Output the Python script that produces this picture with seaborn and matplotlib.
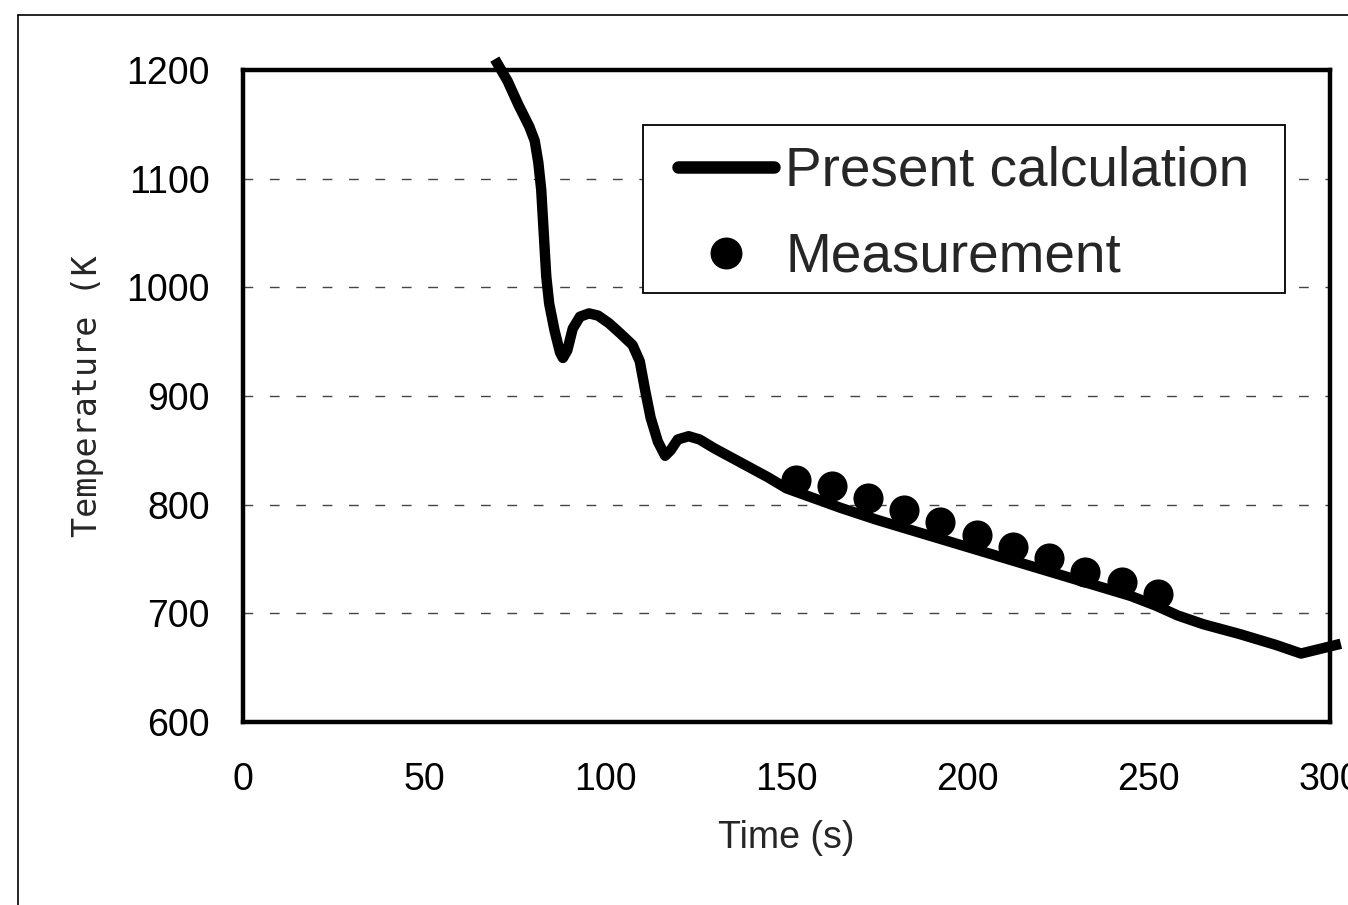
import pandas as pd
import seaborn as sns
import matplotlib.pyplot as plt
from matplotlib.lines import Line2D
from matplotlib.patches import Rectangle

# calculated temperature history
calc_time = [69.5, 73, 76, 79, 80.5, 81.5, 82.3, 83, 83.7, 84.5, 86, 87.5,
             88.3, 89.5, 91, 93, 95.5, 98, 101, 104, 107.5, 109.5, 111, 112.5,
             114.5, 116.5, 118, 120, 123, 126, 130, 135, 140, 145, 150, 155,
             165, 175, 185, 195, 205, 215, 225, 235, 245, 252, 258, 265, 275,
             285, 292, 303]
calc_temp = [1210, 1190, 1168, 1148, 1135, 1115, 1090, 1050, 1010, 985, 960, 940,
             935, 942, 962, 973, 976, 974, 967, 958, 947, 932, 905, 880,
             858, 845, 850, 860, 863, 860, 852, 843, 834, 825, 815, 809,
             797, 786, 776, 766, 756, 746, 736, 726, 716, 707, 698, 690, 681,
             671, 663, 672]

# measured points
meas_time = [152.5, 162.5, 172.5, 182.5, 192.5, 202.5, 212.5, 222.5, 232.5, 242.5, 252.5]
meas_temp = [823, 817, 806, 795, 784, 772, 761, 751, 738, 729, 718]

x_ticks = [0, 50, 100, 150, 200, 250, 300]
y_ticks = [600, 700, 800, 900, 1000, 1100, 1200]

sns.set_style('white')
plt.rcParams['font.family'] = ['Liberation Sans', 'DejaVu Sans']

calc = pd.DataFrame({'t': calc_time, 'T': calc_temp})
meas = pd.DataFrame({'t': meas_time, 'T': meas_temp})

fig = plt.figure(figsize=(13.48, 9.05), dpi=100)
ax = fig.add_axes([243 / 1348, 1 - 722 / 905, 1087 / 1348, 652 / 905])

# dashed horizontal grid, only inner levels
for yv in y_ticks[1:-1]:
    ax.axhline(yv, color='#444444', lw=1.0, dashes=(7, 12), zorder=1)

sns.lineplot(data=calc, x='t', y='T', ax=ax, color='black', lw=7.5,
             sort=False, clip_on=False, zorder=3,
             solid_joinstyle='round', solid_capstyle='butt')
sns.scatterplot(data=meas, x='t', y='T', ax=ax, color='black', s=470,
                edgecolor='black', linewidth=0, zorder=4, clip_on=False)

ax.set_xlim(0, 300)
ax.set_ylim(600, 1200)
ax.set_xticks(x_ticks)
ax.set_yticks(y_ticks)
ax.tick_params(axis='both', direction='in', length=6, width=1, labelsize=27,
               colors='black')
ax.tick_params(axis='y', pad=24)
ax.tick_params(axis='x', pad=29)

for sp in ax.spines.values():
    sp.set_visible(True)
    sp.set_linewidth(3.2)
    sp.set_color('black')

ax.set_xlabel('Time (s)', fontsize=27)
ax.xaxis.set_label_coords(0.5, -0.150)
ax.xaxis.label.set_va('top')
ax.set_ylabel('Temperature (K', fontsize=24, family=['DejaVu Sans Mono'])
ax.yaxis.set_label_coords(-0.128, 0.5)

# legend
handles = [Line2D([], [], color='black', lw=9, solid_capstyle='round'),
           Line2D([], [], color='black', marker='o', ls='none', markersize=22)]
leg = ax.legend(handles, ['Present calculation', 'Measurement'], loc='center',
                bbox_to_anchor=(0.663, 0.778), frameon=False, fontsize=39.5,
                handlelength=1.75, handletextpad=0.2, labelspacing=0.62)
ax.add_patch(Rectangle((0.368, 0.658), 0.5906, 0.2577, transform=ax.transAxes,
                       fill=True, facecolor='white', edgecolor='black', lw=1.3,
                       zorder=5))
leg.set_zorder(6)

# outer frame of the scanned figure
fig.add_artist(Line2D([18 / 1348, 18 / 1348], [0, 1 - 15 / 905], color='black', lw=1.2))
fig.add_artist(Line2D([18 / 1348, 1], [1 - 15 / 905, 1 - 15 / 905], color='black', lw=1.2))

fig.savefig('out.png', dpi=100)
